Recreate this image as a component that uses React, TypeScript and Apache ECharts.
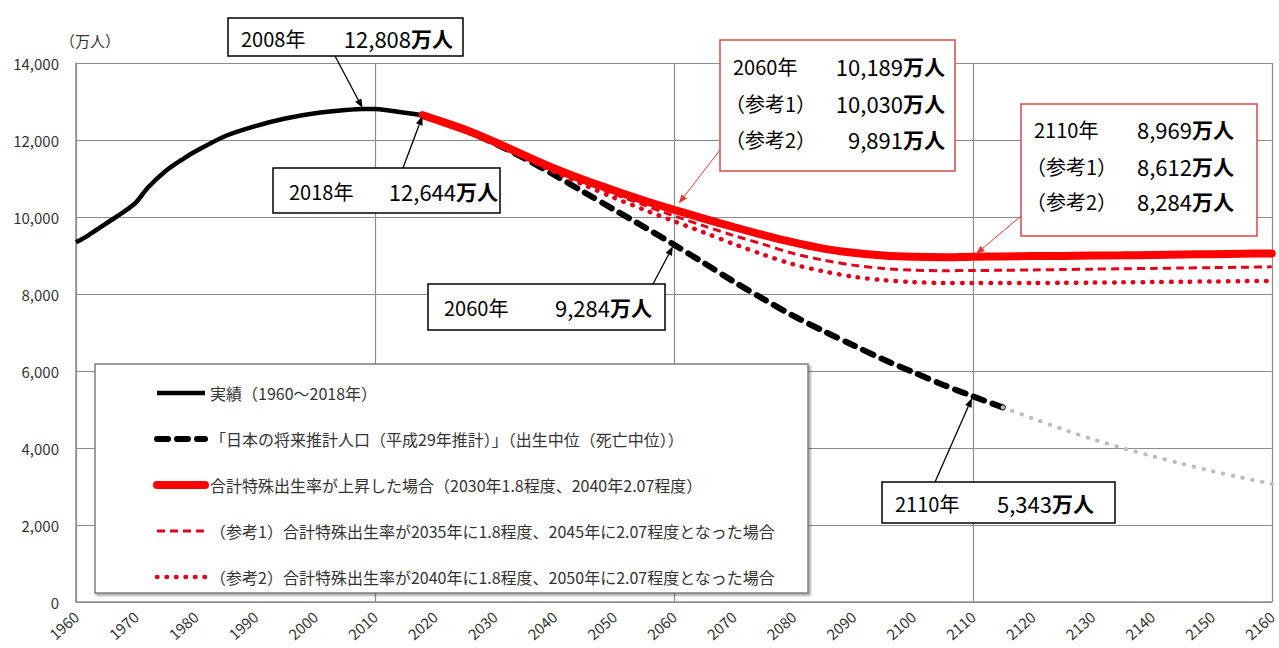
import React, { useEffect, useRef } from "react";
import * as echarts from "echarts";

// ---- data (万人) ----
const actualYears = [1960, 1962, 1965, 1968, 1970, 1972, 1975, 1978, 1980, 1985, 1990, 1995, 2000, 2005, 2008, 2010, 2015, 2018];
const actualValues = [9342, 9518, 9828, 10133, 10372, 10760, 11194, 11517, 11706, 12105, 12361, 12557, 12693, 12777, 12808, 12806, 12709, 12644];

const projYears = [2018, 2020, 2025, 2030, 2035, 2040, 2045, 2050, 2055, 2060, 2065, 2070, 2075, 2080, 2085, 2090, 2095, 2100, 2105, 2110, 2115];
const projValues = [12644, 12532, 12254, 11913, 11522, 11092, 10642, 10192, 9744, 9284, 8808, 8323, 7869, 7430, 7039, 6668, 6304, 5972, 5644, 5343, 5056];

const extYears = [2115, 2120, 2125, 2130, 2135, 2140, 2145, 2150, 2155, 2160];
const extValues = [5056, 4770, 4490, 4230, 4000, 3790, 3590, 3400, 3230, 3070];

const scenYears = [2018, 2020, 2025, 2030, 2035, 2040, 2045, 2050, 2055, 2060, 2065, 2070, 2075, 2080, 2085, 2090, 2095, 2100, 2105, 2110, 2115, 2120, 2125, 2130, 2135, 2140, 2145, 2150, 2155, 2160];
const riseValues = [12644, 12540, 12270, 11950, 11600, 11260, 10960, 10690, 10430, 10189, 9960, 9740, 9530, 9340, 9180, 9070, 9000, 8965, 8955, 8969, 8975, 8985, 8990, 9000, 9005, 9015, 9025, 9035, 9045, 9055];
const ref1Values = [12644, 12540, 12265, 11940, 11580, 11220, 10900, 10600, 10310, 10030, 9770, 9520, 9290, 9050, 8880, 8750, 8665, 8620, 8605, 8612, 8615, 8625, 8635, 8645, 8655, 8665, 8675, 8685, 8695, 8705];
const ref2Values = [12644, 12540, 12262, 11930, 11550, 11170, 10830, 10500, 10190, 9891, 9600, 9300, 9020, 8770, 8590, 8450, 8360, 8310, 8285, 8284, 8283, 8285, 8290, 8296, 8303, 8310, 8318, 8326, 8334, 8342];

const legendNames = [
  "実績（1960～2018年）",
  "「日本の将来推計人口（平成29年推計）」（出生中位（死亡中位））",
  "合計特殊出生率が上昇した場合（2030年1.8程度、2040年2.07程度）",
  "（参考1）合計特殊出生率が2035年に1.8程度、2045年に2.07程度となった場合",
  "（参考2）合計特殊出生率が2040年に1.8程度、2050年に2.07程度となった場合",
];

const FONT = "'Noto Sans CJK JP', 'Noto Sans', sans-serif";
const RED = "#ff0000";
const RED2 = "#e2001a";

const pairs = (xs: number[], ys: number[]) => xs.map((x, i) => [x, ys[i]]);
const valueAt = (xs: number[], ys: number[], x: number) => ys[xs.indexOf(x)];
const fmt = (v: number) => v.toLocaleString("en-US");

function arrow(from: number[], to: number[], color: string, width: number, gap: number) {
  const dx = to[0] - from[0];
  const dy = to[1] - from[1];
  const len = Math.hypot(dx, dy);
  const ux = dx / len;
  const uy = dy / len;
  const tip = [to[0] - ux * gap, to[1] - uy * gap];
  const head = 9;
  const half = 3.5;
  const base = [tip[0] - ux * head, tip[1] - uy * head];
  const nx = -uy;
  const ny = ux;
  return [
    { type: "line", z: 11, shape: { x1: from[0], y1: from[1], x2: base[0], y2: base[1] }, style: { stroke: color, lineWidth: width } },
    {
      type: "polygon",
      z: 11,
      shape: { points: [tip, [base[0] + nx * half, base[1] + ny * half], [base[0] - nx * half, base[1] - ny * half]] },
      style: { fill: color },
    },
  ];
}

function box(x: number, y: number, w: number, h: number, stroke: string) {
  return { type: "rect", z: 10, shape: { x, y, width: w, height: h }, style: { fill: "#fff", stroke, lineWidth: 1.5 } };
}

function label(x: number, y: number, text: string) {
  return {
    type: "text",
    z: 12,
    x,
    y,
    style: { text, fill: "#000", fontSize: 20, fontFamily: FONT, align: "left", verticalAlign: "middle" },
  };
}

function valueText(x: number, y: number, v: number) {
  return {
    type: "text",
    z: 12,
    x,
    y,
    style: {
      text: `{n|${fmt(v)}}{u|万人}`,
      align: "right",
      verticalAlign: "middle",
      rich: {
        n: { fontSize: 22, fontFamily: FONT, fill: "#000" },
        u: { fontSize: 21, fontFamily: FONT, fontWeight: "bold", fill: "#000" },
      },
    },
  };
}

export default function App() {
  const ref = useRef<HTMLDivElement>(null);

  useEffect(() => {
    if (!ref.current) return;
    const chart = echarts.init(ref.current, undefined, { renderer: "svg" });

    const legendWidths = [4.5, 6, 8, 3, 4.5];

    const option: any = {
      animation: false,
      backgroundColor: "#fff",
      grid: { left: 76, right: 3, top: 63, bottom: 46, containLabel: false },
      xAxis: [
        {
          type: "value",
          min: 1960,
          max: 2160,
          interval: 10,
          axisLine: { show: true, lineStyle: { color: "#8c8c8c", width: 1.5 } },
          axisTick: { show: false },
          splitLine: { show: false },
          axisLabel: {
            rotate: 42,
            margin: 12,
            fontSize: 15,
            color: "#333",
            fontFamily: FONT,
            formatter: (v: number) => String(v),
          },
        },
        {
          type: "value",
          min: 1960,
          max: 2160,
          interval: 50,
          position: "bottom",
          axisLine: { show: false },
          axisTick: { show: false },
          axisLabel: { show: false },
          splitLine: { show: true, lineStyle: { color: "#8c8c8c", width: 1.2 } },
        },
      ],
      yAxis: {
        type: "value",
        min: 0,
        max: 14000,
        interval: 2000,
        axisLine: { show: true, lineStyle: { color: "#8c8c8c", width: 1.5 } },
        axisTick: { show: false },
        splitLine: { show: true, lineStyle: { color: "#8c8c8c", width: 1.2 } },
        axisLabel: { fontSize: 15, color: "#333", fontFamily: FONT, margin: 17 },
      },
      legend: {
        orient: "vertical",
        left: 148,
        top: 380,
        itemWidth: 48,
        itemHeight: 14,
        itemGap: 30,
        selectedMode: false,
        itemStyle: { opacity: 0 },
        data: legendNames.map((name, i) => ({ name, lineStyle: { width: legendWidths[i] } })),
        textStyle: { fontSize: 16, lineHeight: 16, color: "#333", fontFamily: FONT },
      },
      series: [
        {
          name: legendNames[0],
          type: "line",
          data: pairs(actualYears, actualValues),
          smooth: 0.3,
          symbol: "none",
          lineStyle: { color: "#000", width: 4.5 },
          itemStyle: { color: "#000" },
          z: 5,
        },
        {
          name: legendNames[1],
          type: "line",
          data: pairs(projYears, projValues),
          smooth: 0.3,
          symbol: "none",
          lineStyle: { color: "#000", width: 6, type: [11, 9], cap: "round" },
          itemStyle: { color: "#000" },
          z: 3,
        },
        {
          name: "延長",
          type: "line",
          data: pairs(extYears, extValues),
          smooth: 0.3,
          symbol: "none",
          lineStyle: { color: "#bdbdbd", width: 4, type: [0.5, 9.5], cap: "round" },
          itemStyle: { color: "#bdbdbd" },
          z: 3,
        },
        {
          name: legendNames[4],
          type: "line",
          data: pairs(scenYears, ref2Values),
          smooth: 0.3,
          symbol: "none",
          lineStyle: { color: RED2, width: 4.5, type: [0.5, 9], cap: "round" },
          itemStyle: { color: RED2 },
          z: 4,
        },
        {
          name: legendNames[3],
          type: "line",
          data: pairs(scenYears, ref1Values),
          smooth: 0.3,
          symbol: "none",
          lineStyle: { color: RED2, width: 3, type: [8, 5] },
          itemStyle: { color: RED2 },
          z: 4,
        },
        {
          name: legendNames[2],
          type: "line",
          data: pairs(scenYears, riseValues),
          smooth: 0.3,
          symbol: "none",
          lineStyle: { color: RED, width: 8, cap: "round" },
          itemStyle: { color: RED },
          z: 6,
        },
      ],
    };

    chart.setOption(option);

    const px = (x: number, y: number) => chart.convertToPixel({ xAxisIndex: 0, yAxisIndex: 0 }, [x, y]) as number[];

    const g: any[] = [];
    // unit label
    g.push({ type: "text", z: 12, x: 60, y: 40, style: { text: "（万人）", fill: "#333", fontSize: 15, fontFamily: FONT, verticalAlign: "middle" } });
    // legend frame
    g.push({
      type: "rect",
      z: 1,
      shape: { x: 95, y: 364, width: 713, height: 229 },
      style: { fill: "#fff", stroke: "#7f7f7f", lineWidth: 1.5, shadowBlur: 2, shadowOffsetX: 2, shadowOffsetY: 2, shadowColor: "rgba(0,0,0,0.35)" },
    });

    // 2008 peak
    g.push(box(228, 18, 235, 38, "#000"));
    g.push(label(241, 38, "2008年"));
    g.push(valueText(453, 38, valueAt(actualYears, actualValues, 2008)));
    g.push(...arrow([335, 56], px(2008, valueAt(actualYears, actualValues, 2008)), "#000", 1.3, 1));

    // 2018 latest
    g.push(box(273, 168, 227, 45, "#000"));
    g.push(label(289, 191, "2018年"));
    g.push(valueText(498, 191, valueAt(actualYears, actualValues, 2018)));
    g.push(...arrow([403, 168], px(2018, valueAt(actualYears, actualValues, 2018)), "#000", 1.3, 1));

    // 2060 scenarios
    g.push(box(720, 40, 235, 131, "#d9484a"));
    g.push(label(733, 66, "2060年"));
    g.push(valueText(945, 66, valueAt(scenYears, riseValues, 2060)));
    g.push(label(725, 103, "（参考1）"));
    g.push(valueText(945, 103, valueAt(scenYears, ref1Values, 2060)));
    g.push(label(725, 139, "（参考2）"));
    g.push(valueText(945, 139, valueAt(scenYears, ref2Values, 2060)));
    g.push(...arrow([720, 150], px(2060, valueAt(scenYears, riseValues, 2060)), "#e53935", 1, 8));

    // 2110 scenarios
    g.push(box(1021, 104, 236, 132, "#d9484a"));
    g.push(label(1034, 129, "2110年"));
    g.push(valueText(1234, 129, valueAt(scenYears, riseValues, 2110)));
    g.push(label(1026, 166, "（参考1）"));
    g.push(valueText(1234, 166, valueAt(scenYears, ref1Values, 2110)));
    g.push(label(1026, 201, "（参考2）"));
    g.push(valueText(1234, 201, valueAt(scenYears, ref2Values, 2110)));
    g.push(...arrow([1021, 216], px(2110, valueAt(scenYears, riseValues, 2110)), "#e53935", 1, 4));

    // 2060 projection
    g.push(box(428, 284, 237, 46, "#000"));
    g.push(label(444, 307, "2060年"));
    g.push(valueText(652, 307, valueAt(projYears, projValues, 2060)));
    g.push(...arrow([653, 284], px(2060, valueAt(projYears, projValues, 2060)), "#000", 1.3, 2));

    // 2110 projection
    g.push(box(882, 482, 233, 41, "#000"));
    g.push(label(895, 503, "2110年"));
    g.push(valueText(1094, 503, valueAt(projYears, projValues, 2110)));
    g.push(...arrow([935, 482], px(2110, valueAt(projYears, projValues, 2110)), "#000", 1.3, 2));

    chart.setOption({ graphic: g });

    return () => chart.dispose();
  }, []);

  return <div ref={ref} style={{ position: "absolute", left: 0, top: 0, width: 1279, height: 648 }} />;
}
